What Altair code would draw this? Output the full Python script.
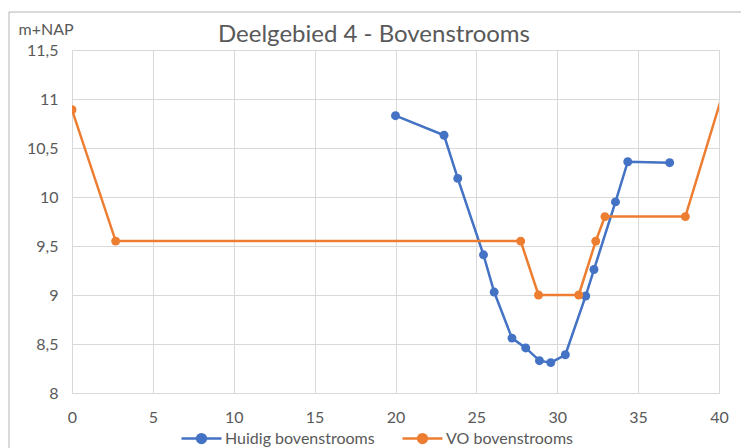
import altair as alt
import pandas as pd

# Profile: distance (m) vs. bed level (m+NAP)
huidig_x = [20.0, 23.0, 23.85, 25.44, 26.1, 27.2, 28.05, 28.9, 29.6, 30.5, 31.76, 32.27, 33.6, 34.36, 36.95]
huidig_y = [10.83, 10.63, 10.19, 9.41, 9.03, 8.56, 8.46, 8.33, 8.31, 8.39, 8.99, 9.26, 9.95, 10.36, 10.35]

vo_x = [0.0, 2.7, 27.74, 28.84, 31.33, 32.38, 32.95, 37.92, 40.5]
vo_y = [10.89, 9.55, 9.55, 9.0, 9.0, 9.55, 9.8, 9.8, 11.2]

series_names = ["Huidig bovenstrooms", "VO bovenstrooms"]
series_colors = ["#4472C4", "#ED7D31"]

x_ticks = [0, 5, 10, 15, 20, 25, 30, 35, 40]
y_ticks = [8, 8.5, 9, 9.5, 10, 10.5, 11, 11.5]

title_text = "Deelgebied 4 - Bovenstrooms"

df = pd.concat([
    pd.DataFrame({"afstand": huidig_x, "hoogte": huidig_y, "serie": series_names[0], "volg": range(len(huidig_x))}),
    pd.DataFrame({"afstand": vo_x, "hoogte": vo_y, "serie": series_names[1], "volg": range(len(vo_x))}),
])

FONT = "Lato"
GREY = "#595959"
GRID = "#d9d9d9"

x_enc = alt.X(
    "afstand:Q",
    scale=alt.Scale(domain=[0, 40], nice=False),
    axis=alt.Axis(values=x_ticks, title=None, grid=True, gridColor=GRID, domainColor=GRID,
                  ticks=False, labelFlush=False, labelPadding=16, labelFontSize=16,
                  labelColor=GREY, labelFont=FONT),
)
y_enc = alt.Y(
    "hoogte:Q",
    scale=alt.Scale(domain=[8, 11.5], nice=False, zero=False),
    axis=alt.Axis(values=y_ticks, title="m+NAP", titleAngle=0, titleX=-54, titleY=-16,
                  titleAlign="left", titleBaseline="alphabetic", titleFontSize=16,
                  titleFontWeight="normal", titleColor=GREY, titleFont=FONT,
                  grid=True, gridColor=GRID, domain=False, ticks=False, labelFlush=False,
                  labelPadding=14, labelFontSize=16, labelColor=GREY, labelFont=FONT,
                  labelExpr="replace(format(datum.value, '~g'), '.', ',')"),
)
color_enc = alt.Color(
    "serie:N",
    scale=alt.Scale(domain=series_names, range=series_colors),
    legend=alt.Legend(
        title=None, orient="none", direction="horizontal", legendX=108, legendY=367,
        symbolType="M-1,0L1,0M0.22,0A0.22,0.22,0,1,1,-0.22,0A0.22,0.22,0,1,1,0.22,0Z",
        symbolSize=1600, symbolStrokeWidth=2.5, symbolOpacity=1,
        labelFontSize=16, labelColor=GREY, labelFont=FONT, labelOffset=2,
        columnPadding=22,
    ),
)

lines = alt.Chart(df).mark_line(strokeWidth=2.5, clip=True).encode(
    x=x_enc, y=y_enc, color=color_enc, order="volg:Q", detail="serie:N"
)
points = alt.Chart(df).mark_circle(size=80, opacity=1, clip=True).encode(
    x="afstand:Q", y="hoogte:Q", color=alt.Color("serie:N", legend=None)
)

one_row = pd.DataFrame({"k": [0]})

# outer chart frame
frame = alt.Chart(one_row).mark_rect(
    fill=None, stroke="#b4b4b4", strokeWidth=1
).encode(
    x=alt.value(-63), y=alt.value(-38), x2=alt.value(760), y2=alt.value(460)
)

# chart heading, centred over the whole chart
heading = alt.Chart(one_row).mark_text(
    font=FONT, fontSize=24, color=GREY, align="center", baseline="alphabetic"
).encode(
    x=alt.value(302), y=alt.value(-8), text=alt.value(title_text)
)

chart = alt.layer(frame, lines, points, heading).properties(
    width=647,
    height=343,
    autosize=alt.AutoSizeParams(type="none"),
    padding={"left": 72, "top": 50, "right": 22, "bottom": 55},
).configure_view(stroke=None).configure(background="white")

chart.save("out.html", embed_options={"renderer": "svg", "actions": False})
